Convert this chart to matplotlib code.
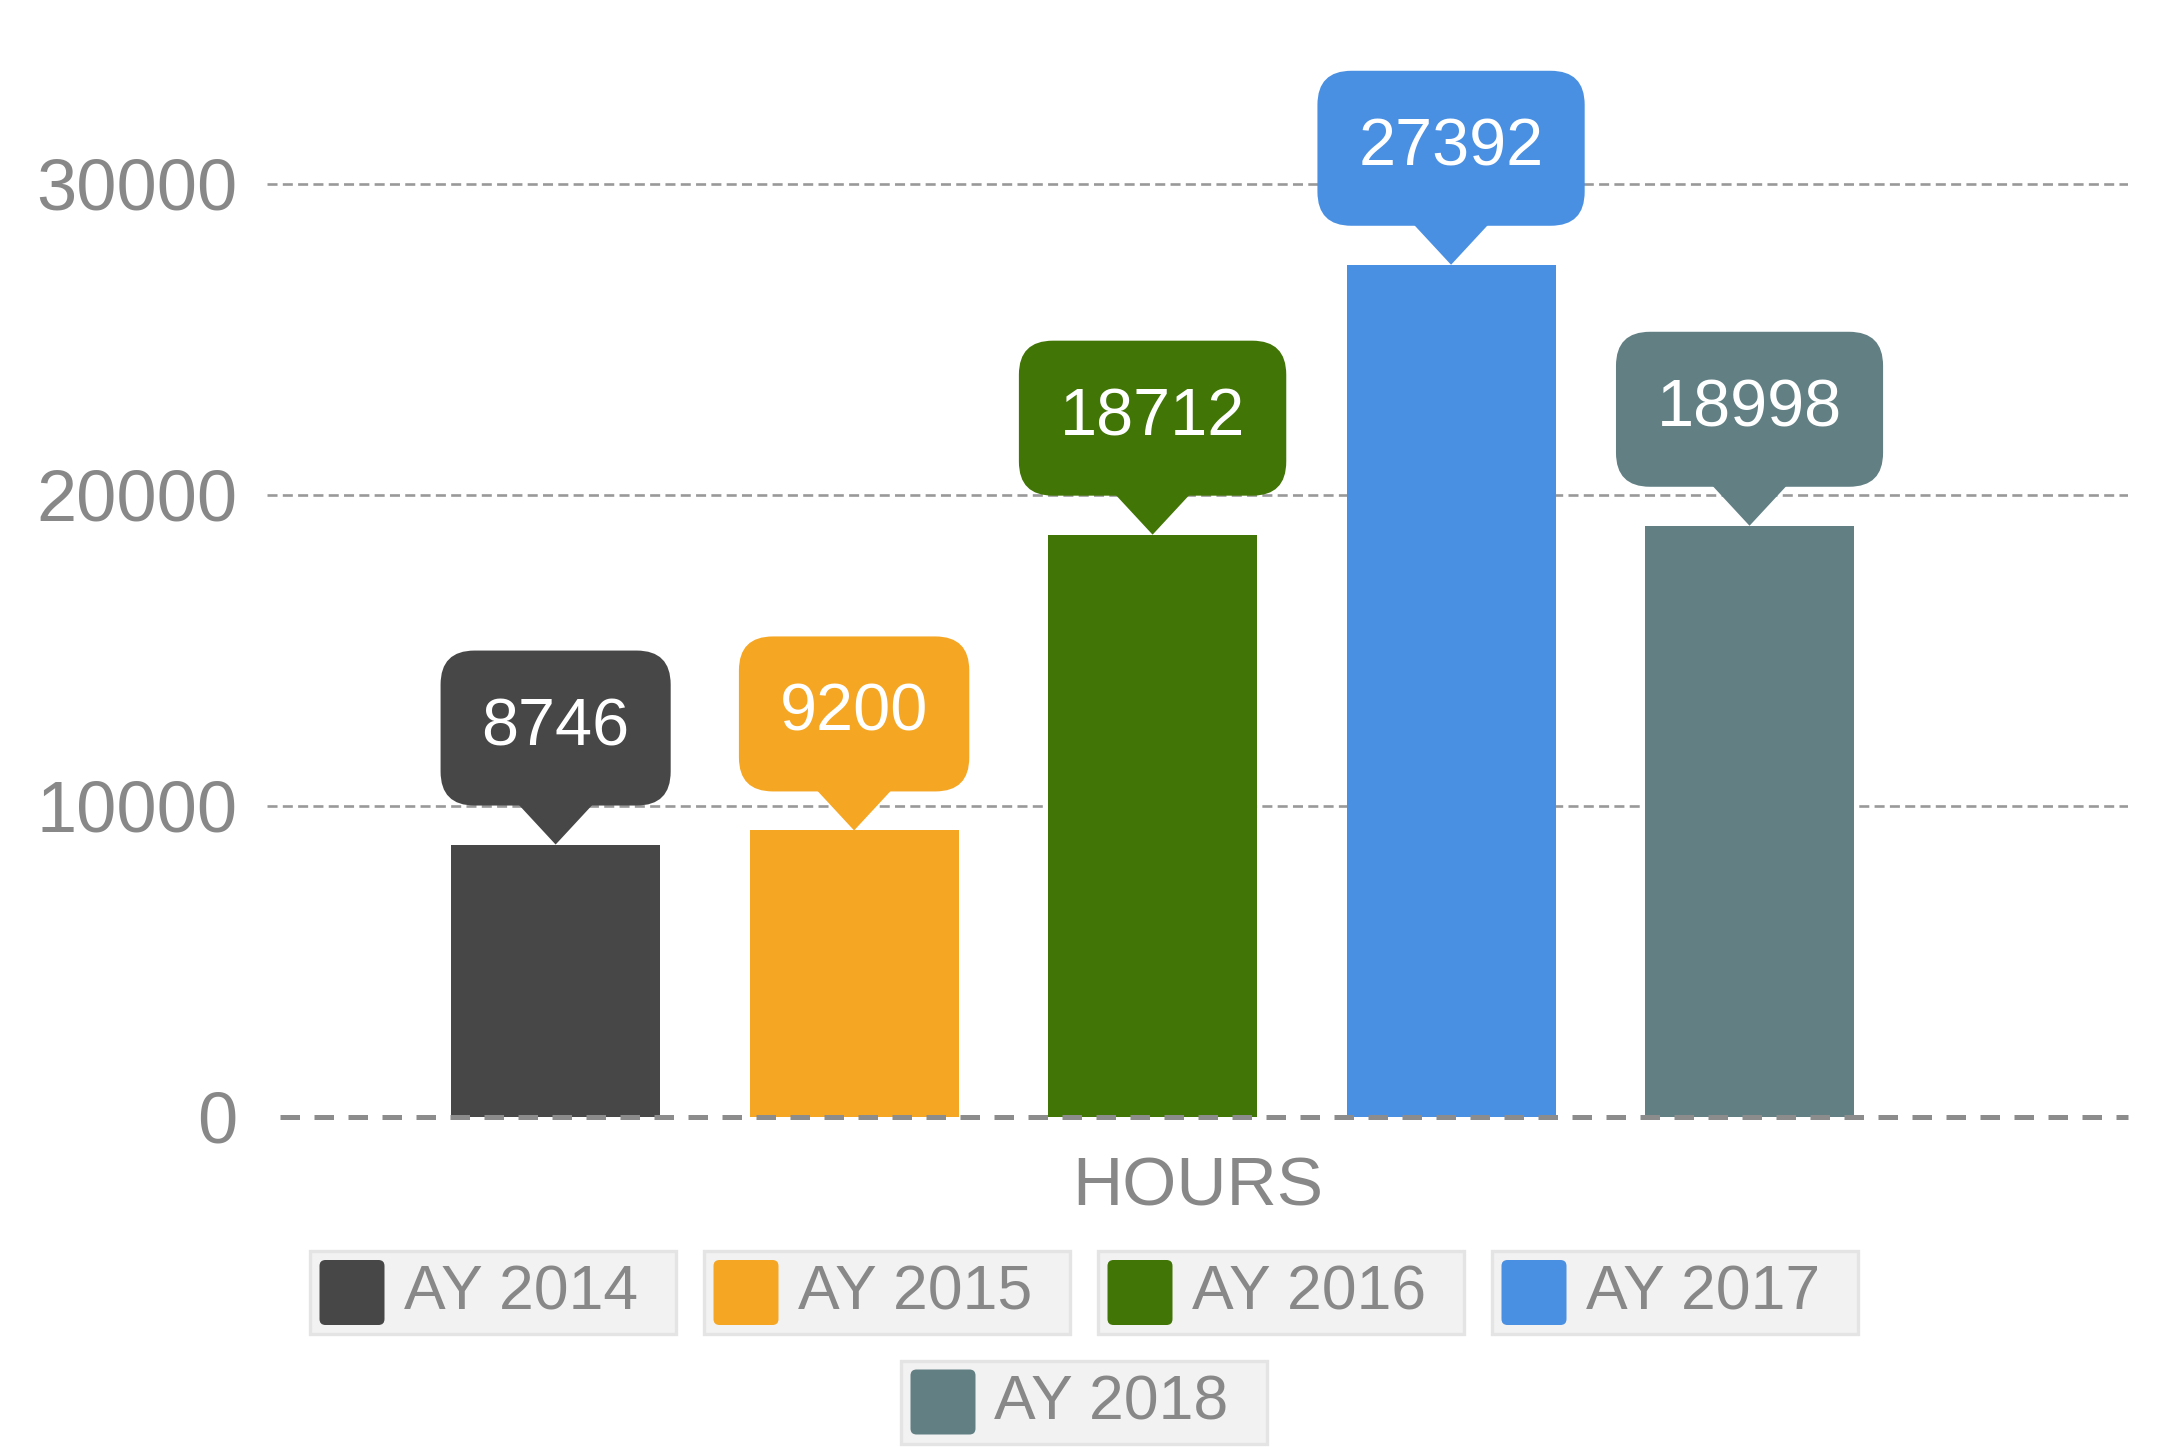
import matplotlib
matplotlib.use('Agg')
import matplotlib.pyplot as plt
from matplotlib.patches import FancyBboxPatch, Polygon
import matplotlib.transforms as mtransforms

series = ['AY 2014', 'AY 2015', 'AY 2016', 'AY 2017', 'AY 2018']
values = [8746, 9200, 18712, 27392, 18998]
colors = ['#474747', '#F5A623', '#417505', '#4A90E2', '#628084']
category = 'HOURS'
yticks = [0, 10000, 20000, 30000]

plt.rcParams['font.family'] = ['Liberation Sans', 'DejaVu Sans']
DPI = 100
W, H = 2167, 1447
fig = plt.figure(figsize=(W / DPI, H / DPI), dpi=DPI)


def px(x0, y0, x1, y1):
    return [x0 / W, 1 - y1 / H, (x1 - x0) / W, (y1 - y0) / H]


ax = fig.add_axes(px(267, 90.4, 2128, 1116.5))
xpos = list(range(len(values)))
ax.bar(xpos, values, width=0.70, color=colors, zorder=3)
ax.set_xlim(-0.967, 5.268)
ax.set_ylim(0, 33000)
ax.set_autoscale_on(False)
for s in ax.spines.values():
    s.set_visible(False)
ax.set_xticks([])
ax.set_yticks(yticks)
ax.set_yticklabels([str(t) for t in yticks])
ax.tick_params(axis='y', length=0, pad=21, labelsize=52, labelcolor='#888888')
for t in yticks[1:]:
    ax.axhline(t, color='#999999', lw=1.9, dashes=(3.8, 2.0), zorder=1)
zl = ax.axhline(0, xmin=0.007, xmax=1, color='#8c8c8c', lw=3.6, dashes=(3.9, 2.9), zorder=4)
zl.set_clip_on(False)

# overlay in pixel coords
ov = fig.add_axes([0, 0, 1, 1])
ov.set_xlim(0, W)
ov.set_ylim(H, 0)
ov.axis('off')
ov.patch.set_visible(False)

ov.text(267 + (2128 - 267) / 2, 1188, category, ha='center', va='center',
        fontsize=50, color='#888888')

fig.canvas.draw()
renderer = fig.canvas.get_renderer()

PH, BH, R, HB = 39, 155, 34, 38
for xi, v, c in zip(xpos, values, colors):
    tr = (mtransforms.Affine2D().scale(1 / DPI) + fig.dpi_scale_trans
          + mtransforms.ScaledTranslation(xi, v, ax.transData))
    txt = fig.text(0, 0, str(v), fontsize=48, color='white', ha='center', va='center',
                   transform=tr, zorder=12)
    tw = txt.get_window_extent(renderer).width
    bw = tw + 82
    txt.set_position((0, PH + BH / 2))
    box = FancyBboxPatch((-bw / 2, PH), bw, BH,
                         boxstyle=f'round,pad=0,rounding_size={R}',
                         fc=c, ec='none', transform=tr, zorder=10)
    tri = Polygon([(-HB, PH + 2), (HB, PH + 2), (0, 0)], closed=True, fc=c, ec='none',
                  transform=tr, zorder=10)
    fig.add_artist(box)
    fig.add_artist(tri)

# legend
rows = [[0, 1, 2, 3], [4]]
row_tops = [1249, 1358.5]
iw, ih, gap = 370, 87, 24
for row, top in zip(rows, row_tops):
    total = len(row) * iw + (len(row) - 1) * gap
    x0 = W / 2 - total / 2
    for i in row:
        ov.add_patch(FancyBboxPatch((x0 + 2, top + 2), iw - 4, ih - 4, boxstyle='square,pad=0',
                                    fc='#f2f2f2', ec='#e4e4e4', lw=2.4))
        ov.add_patch(FancyBboxPatch((x0 + 12, top + ih / 2 - 32.5), 65, 65,
                                    boxstyle='round,pad=0,rounding_size=6',
                                    fc=colors[i], ec='none'))
        ov.text(x0 + 96, top + ih / 2 + 1, series[i], ha='left', va='center',
                fontsize=45, color='#888888')
        x0 += iw + gap

fig.savefig('out.png', dpi=DPI)
